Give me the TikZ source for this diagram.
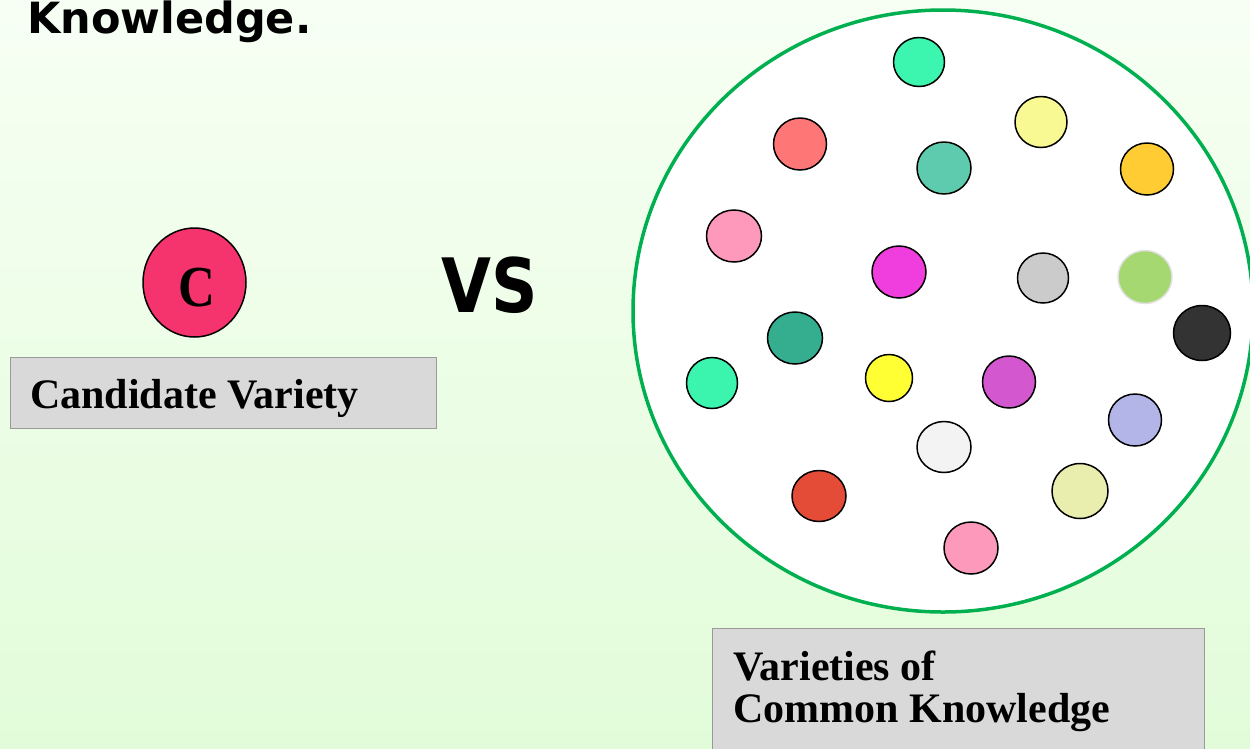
\documentclass[tikz,border=0pt]{standalone}
\usepackage{fontspec}
\setmainfont{Liberation Serif}
\newfontfamily\dejab{DejaVu Sans}
\usetikzlibrary{shapes.geometric}
\definecolor{bgtop}{HTML}{F7FFF4}
\definecolor{bgbot}{HTML}{E2FCD9}
\definecolor{cpink}{HTML}{F5336C}
\definecolor{boxgray}{HTML}{D9D9D9}
\definecolor{boxedge}{HTML}{9A9A9A}
\definecolor{ringgreen}{HTML}{00B050}
\begin{document}
\begin{tikzpicture}[x=1pt,y=-1pt,
  dot/.style={ellipse, draw=black, line width=1.5pt, inner sep=0pt, minimum width=52pt, minimum height=51pt},
  labelbox/.style={draw=boxedge, fill=boxgray, line width=1pt},
  boxtext/.style={font=\fontsize{42}{42}\selectfont\bfseries, inner sep=0pt, anchor=base west}]
\shade[top color=bgtop, bottom color=bgbot] (0,0) rectangle (1250,748);
\useasboundingbox (0,0) rectangle (1250,748);
% title
\node[font=\dejab\fontsize{43}{50}\selectfont\bfseries, inner sep=0pt, anchor=base west] (title) at (27,33) {Knowledge.};
% candidate
\node[ellipse, draw=black, line width=1.5pt, fill=cpink, minimum width=103pt, minimum height=109pt, inner sep=0pt] (cand) at (194.5,282.5) {};
\node[font=\fontsize{58}{58}\selectfont\bfseries, inner sep=0pt, anchor=base] (clabel) at (197,306) {\scalebox{0.88}[1]{C}};
\node[labelbox, minimum width=426pt, minimum height=71pt, inner sep=0pt] (candbox) at (223,392.5) {};
\node[boxtext] (candtext) at (30,408) {Candidate Variety};
% vs
\node[font=\dejab\fontsize{75}{75}\selectfont\bfseries, inner sep=0pt, anchor=base] (vs) at (490,312) {\scalebox{0.86}[1]{VS}};
% ring
\node[ellipse, draw=ringgreen, line width=3.5pt, fill=white, minimum width=620pt, minimum height=602pt, inner sep=0pt] (ring) at (943,311) {};
% dots
\node[dot, fill={rgb,255:red,60;green,245;blue,174}, minimum width=51pt, minimum height=49pt] (d1) at (919,62) {};
\node[dot, fill={rgb,255:red,255;green,118;blue,118}, minimum width=53pt, minimum height=52pt] (d2) at (800,144) {};
\node[dot, fill={rgb,255:red,249;green,249;blue,148}] (d3) at (1041,122) {};
\node[dot, fill={rgb,255:red,95;green,203;blue,174}, minimum width=54pt, minimum height=52pt] (d4) at (944,168) {};
\node[dot, fill={rgb,255:red,255;green,204;blue,51}, minimum width=53pt, minimum height=52pt] (d5) at (1147,169) {};
\node[dot, fill={rgb,255:red,255;green,153;blue,187}, minimum width=55pt, minimum height=52pt] (d6) at (734,236) {};
\node[dot, fill={rgb,255:red,239;green,62;blue,221}, minimum width=54pt, minimum height=52pt] (d7) at (899,272) {};
\node[dot, fill={rgb,255:red,203;green,203;blue,203}, minimum width=51pt, minimum height=50pt] (d8) at (1043,278) {};
\node[dot, draw={rgb,255:red,225;green,225;blue,225}, fill={rgb,255:red,166;green,216;blue,114}, minimum width=54pt, minimum height=53pt] (d9) at (1145,277) {};
\node[dot, fill={rgb,255:red,51;green,51;blue,51}, minimum width=57pt, minimum height=55pt] (d10) at (1202,333) {};
\node[dot, fill={rgb,255:red,53;green,173;blue,143}, minimum width=55pt, minimum height=52pt] (d11) at (795,338) {};
\node[dot, fill={rgb,255:red,59;green,245;blue,174}, minimum width=51pt, minimum height=51pt] (d12) at (712,383) {};
\node[dot, fill={rgb,255:red,255;green,255;blue,51}, minimum width=47pt, minimum height=47pt] (d13) at (889,378) {};
\node[dot, fill={rgb,255:red,211;green,87;blue,206}, minimum width=53pt, minimum height=52pt] (d14) at (1009,382) {};
\node[dot, fill={rgb,255:red,179;green,181;blue,232}, minimum width=53pt, minimum height=52pt] (d15) at (1135,420) {};
\node[dot, fill={rgb,255:red,243;green,243;blue,243}, minimum width=54pt, minimum height=51pt] (d16) at (944,447) {};
\node[dot, fill={rgb,255:red,229;green,76;blue,56}, minimum width=54pt, minimum height=51pt] (d17) at (819,496) {};
\node[dot, fill={rgb,255:red,233;green,237;blue,174}, minimum width=56pt, minimum height=55pt] (d18) at (1080,491) {};
\node[dot, fill={rgb,255:red,253;green,153;blue,186}, minimum width=54pt, minimum height=52pt] (d19) at (971,548) {};
% common knowledge box
\node[labelbox, minimum width=492pt, minimum height=130pt, inner sep=0pt, anchor=north west] (ckbox) at (712,628) {};
\node[boxtext] (cktext1) at (733,680) {Varieties of};
\node[boxtext] (cktext2) at (733,722) {Common Knowledge};
\end{tikzpicture}
\end{document}
